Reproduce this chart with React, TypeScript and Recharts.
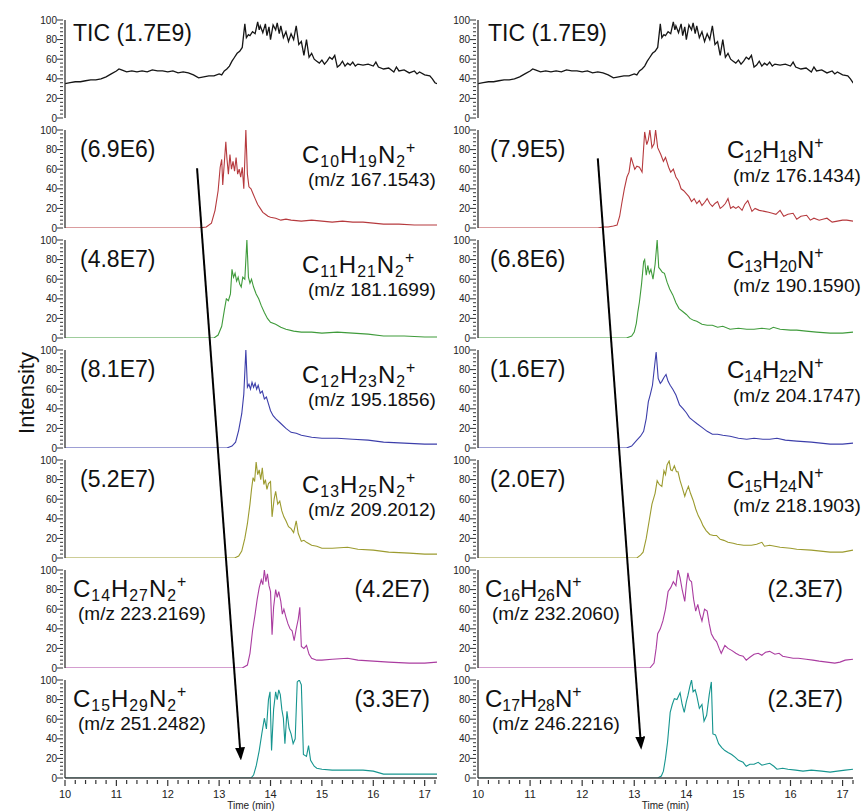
import React from 'react';
import { LineChart, Line, XAxis, YAxis } from 'recharts';

type Pt = [number, number];

// total ion chromatogram (same run, shown on top of both columns)
const TIC: Pt[] = [
  [10.0, 35], [10.1, 36], [10.2, 37], [10.3, 37], [10.4, 38], [10.5, 39], [10.6, 39], [10.7, 40], [10.8, 42], [10.9, 45],
  [11.0, 48], [11.05, 50], [11.1, 49], [11.2, 47], [11.3, 48], [11.4, 47], [11.5, 48], [11.6, 47], [11.7, 49], [11.8, 48],
  [11.9, 48], [12.0, 47], [12.1, 48], [12.2, 46], [12.3, 47], [12.4, 46], [12.5, 44], [12.6, 41], [12.7, 42], [12.8, 43],
  [12.9, 43], [13.0, 45], [13.05, 44], [13.1, 48], [13.15, 50], [13.2, 53], [13.25, 58], [13.3, 62], [13.35, 66], [13.4, 68],
  [13.45, 72], [13.5, 96], [13.53, 82], [13.57, 85], [13.6, 84], [13.65, 88], [13.7, 86], [13.75, 98], [13.78, 90], [13.8, 94],
  [13.85, 87], [13.9, 96], [13.93, 84], [13.97, 93], [14.0, 80], [14.05, 95], [14.1, 90], [14.13, 97], [14.17, 86], [14.2, 94],
  [14.25, 82], [14.3, 88], [14.35, 78], [14.4, 86], [14.45, 80], [14.5, 94], [14.55, 75], [14.6, 78], [14.65, 64], [14.7, 80],
  [14.75, 62], [14.8, 66], [14.85, 60], [14.9, 58], [14.95, 56], [15.0, 59], [15.05, 55], [15.1, 58], [15.15, 62], [15.2, 60],
  [15.25, 64], [15.3, 52], [15.35, 54], [15.4, 58], [15.45, 53], [15.5, 56], [15.55, 54], [15.6, 57], [15.65, 53], [15.7, 55],
  [15.8, 54], [15.9, 55], [16.0, 53], [16.05, 57], [16.1, 52], [16.2, 50], [16.3, 51], [16.4, 47], [16.45, 52], [16.5, 48],
  [16.6, 49], [16.7, 46], [16.8, 48], [16.85, 45], [16.9, 47], [17.0, 44], [17.1, 43], [17.15, 40], [17.2, 36], [17.24, 35],
];

// left column: CnH2n-1N2+ series
const L_C10: Pt[] = [
  [10, 0], [12.6, 0], [12.75, 1], [12.85, 5], [12.92, 18], [12.98, 38], [13.02, 62], [13.05, 70], [13.07, 44], [13.1, 66],
  [13.13, 88], [13.15, 72], [13.18, 55], [13.21, 75], [13.24, 60], [13.27, 68], [13.3, 58], [13.33, 72], [13.36, 55], [13.39, 60],
  [13.42, 52], [13.45, 62], [13.48, 40], [13.52, 100], [13.55, 55], [13.58, 42], [13.62, 40], [13.66, 35], [13.7, 30], [13.75, 24],
  [13.8, 20], [13.85, 16], [13.9, 14], [13.95, 12], [14.0, 11], [14.1, 10], [14.2, 8], [14.3, 9], [14.4, 8], [14.6, 7],
  [14.8, 8], [15.0, 7], [15.2, 6], [15.4, 7], [15.6, 6], [15.8, 6], [16.0, 5], [16.2, 4], [16.5, 4], [16.8, 3], [17.0, 3], [17.24, 3],
];
const L_C11: Pt[] = [
  [10, 0], [12.9, 0], [12.98, 3], [13.05, 12], [13.1, 28], [13.14, 40], [13.18, 38], [13.22, 45], [13.25, 70], [13.28, 62],
  [13.31, 66], [13.34, 58], [13.37, 62], [13.4, 55], [13.43, 52], [13.46, 62], [13.5, 60], [13.54, 100], [13.57, 62], [13.6, 56],
  [13.63, 60], [13.67, 52], [13.72, 45], [13.77, 40], [13.82, 33], [13.88, 26], [13.94, 20], [14.0, 16], [14.1, 14], [14.2, 11],
  [14.3, 9], [14.45, 7], [14.6, 6], [14.8, 6], [15.0, 5], [15.3, 6], [15.6, 5], [15.9, 4], [16.2, 2], [16.6, 2], [17.0, 1], [17.24, 1],
];
const L_C12: Pt[] = [
  [10, 0], [13.15, 0], [13.25, 2], [13.32, 6], [13.38, 18], [13.44, 35], [13.48, 55], [13.52, 100], [13.55, 62], [13.58, 65],
  [13.61, 60], [13.64, 67], [13.67, 62], [13.7, 66], [13.73, 60], [13.76, 64], [13.8, 56], [13.84, 58], [13.88, 50], [13.92, 52],
  [13.96, 45], [14.0, 38], [14.05, 33], [14.1, 30], [14.2, 25], [14.3, 20], [14.4, 16], [14.5, 15], [14.6, 13], [14.8, 11],
  [15.0, 10], [15.3, 10], [15.6, 9], [15.9, 8], [16.2, 6], [16.6, 5], [17.0, 4], [17.24, 4],
];
const L_C13: Pt[] = [
  [10, 0], [13.3, 0], [13.38, 2], [13.44, 7], [13.5, 20], [13.55, 35], [13.6, 55], [13.63, 70], [13.66, 82], [13.69, 78],
  [13.72, 98], [13.75, 85], [13.78, 90], [13.81, 80], [13.84, 92], [13.87, 75], [13.9, 80], [13.93, 70], [13.96, 76], [14.0, 78],
  [14.03, 42], [14.07, 60], [14.1, 68], [14.14, 55], [14.18, 58], [14.22, 48], [14.26, 42], [14.3, 38], [14.35, 32], [14.4, 30],
  [14.45, 26], [14.5, 38], [14.54, 25], [14.6, 17], [14.65, 18], [14.7, 16], [14.8, 13], [14.9, 12], [15.0, 10], [15.2, 10],
  [15.5, 11], [15.7, 9], [16.0, 8], [16.3, 6], [16.7, 5], [17.0, 4], [17.24, 4],
];
const L_C14: Pt[] = [
  [10, 0], [13.45, 0], [13.55, 3], [13.6, 15], [13.65, 38], [13.7, 55], [13.74, 70], [13.78, 82], [13.82, 90], [13.85, 85],
  [13.88, 100], [13.91, 88], [13.94, 96], [13.97, 84], [14.0, 78], [14.03, 34], [14.06, 62], [14.1, 80], [14.13, 72], [14.16, 78],
  [14.2, 68], [14.23, 55], [14.26, 60], [14.3, 52], [14.34, 45], [14.38, 40], [14.42, 38], [14.46, 28], [14.5, 40], [14.54, 50],
  [14.57, 62], [14.6, 22], [14.65, 20], [14.7, 23], [14.75, 14], [14.8, 10], [14.9, 8], [15.0, 8], [15.2, 9], [15.5, 10],
  [15.7, 8], [16.0, 7], [16.3, 6], [16.7, 5], [17.0, 5], [17.24, 6],
];
const L_C15: Pt[] = [
  [10, 0], [13.62, 0], [13.67, 3], [13.72, 12], [13.78, 28], [13.83, 45], [13.88, 61], [13.92, 50], [13.96, 80], [13.99, 88],
  [14.02, 28], [14.06, 70], [14.1, 88], [14.13, 80], [14.16, 90], [14.19, 85], [14.22, 70], [14.25, 61], [14.28, 35], [14.32, 68],
  [14.36, 51], [14.4, 45], [14.44, 35], [14.48, 40], [14.52, 98], [14.56, 100], [14.6, 95], [14.64, 24], [14.7, 22], [14.74, 33],
  [14.78, 18], [14.85, 12], [14.9, 10], [15.0, 9], [15.2, 8], [15.5, 8], [15.8, 8], [16.0, 7], [16.2, 4], [16.6, 4], [17.0, 4], [17.24, 4],
];

// right column: CnH2n-6N+ series
const R_C12: Pt[] = [
  [10, 0], [12.3, 0], [12.4, 1], [12.5, 1], [12.6, 2], [12.67, 3], [12.72, 12], [12.76, 25], [12.81, 40], [12.86, 52],
  [12.9, 57], [12.94, 72], [12.98, 65], [13.01, 60], [13.05, 63], [13.1, 62], [13.15, 57], [13.2, 98], [13.24, 85], [13.27, 90],
  [13.3, 100], [13.34, 82], [13.38, 86], [13.41, 100], [13.45, 82], [13.51, 75], [13.56, 68], [13.6, 72], [13.66, 62], [13.7, 57],
  [13.75, 60], [13.8, 52], [13.85, 48], [13.9, 40], [13.95, 38], [14.0, 35], [14.05, 32], [14.1, 27], [14.15, 30], [14.2, 25],
  [14.25, 28], [14.3, 23], [14.35, 26], [14.4, 30], [14.45, 25], [14.5, 22], [14.55, 25], [14.6, 27], [14.65, 20], [14.7, 22],
  [14.75, 25], [14.8, 30], [14.85, 20], [14.9, 22], [14.95, 20], [15.0, 22], [15.07, 18], [15.12, 24], [15.18, 28], [15.26, 17],
  [15.32, 20], [15.4, 18], [15.5, 17], [15.58, 16], [15.65, 15], [15.72, 14], [15.8, 18], [15.87, 12], [15.95, 14], [16.05, 15],
  [16.12, 9], [16.2, 12], [16.31, 13], [16.38, 8], [16.45, 10], [16.55, 8], [16.62, 9], [16.7, 10], [16.8, 6], [16.9, 7],
  [17.0, 8], [17.08, 8], [17.2, 7],
];
const R_C13: Pt[] = [
  [10, 0], [12.85, 0], [12.95, 2], [13.0, 6], [13.04, 15], [13.07, 27], [13.1, 37], [13.14, 55], [13.18, 78], [13.2, 80],
  [13.23, 64], [13.26, 74], [13.29, 66], [13.32, 70], [13.36, 60], [13.4, 75], [13.44, 100], [13.47, 72], [13.5, 70], [13.54, 67],
  [13.58, 66], [13.63, 57], [13.68, 50], [13.74, 44], [13.8, 36], [13.86, 30], [13.93, 27], [14.0, 24], [14.07, 20], [14.14, 18],
  [14.2, 17], [14.3, 14], [14.4, 13], [14.5, 13], [14.6, 11], [14.7, 12], [14.84, 9], [15.0, 10], [15.16, 9], [15.3, 9],
  [15.45, 10], [15.6, 9], [15.67, 11], [15.8, 9], [16.0, 8], [16.12, 8], [16.3, 7], [16.5, 6], [16.76, 5], [17.0, 5], [17.2, 6],
];
const R_C14: Pt[] = [
  [10, 0], [12.85, 0], [12.95, 2], [13.05, 8], [13.12, 12], [13.18, 17], [13.23, 30], [13.27, 47], [13.31, 55], [13.35, 64],
  [13.42, 98], [13.46, 71], [13.5, 66], [13.53, 68], [13.57, 72], [13.61, 75], [13.65, 68], [13.69, 64], [13.74, 60], [13.8, 54],
  [13.87, 44], [13.94, 40], [14.0, 36], [14.06, 31], [14.13, 28], [14.2, 25], [14.3, 21], [14.4, 17], [14.5, 14], [14.6, 14],
  [14.7, 13], [14.84, 12], [15.0, 10], [15.16, 9], [15.3, 10], [15.47, 9], [15.6, 9], [15.74, 10], [15.9, 8], [16.12, 7],
  [16.4, 6], [16.76, 4], [17.0, 4], [17.2, 5],
];
const R_C15: Pt[] = [
  [10, 0], [13.05, 0], [13.12, 3], [13.17, 6], [13.23, 20], [13.29, 39], [13.34, 55], [13.4, 66], [13.44, 79], [13.48, 75],
  [13.53, 73], [13.57, 89], [13.6, 85], [13.63, 95], [13.67, 99], [13.7, 90], [13.73, 89], [13.77, 94], [13.81, 88], [13.84, 88],
  [13.88, 79], [13.92, 72], [13.97, 63], [14.0, 68], [14.04, 73], [14.08, 66], [14.13, 59], [14.18, 50], [14.23, 43], [14.28, 38],
  [14.32, 33], [14.38, 28], [14.45, 24], [14.52, 23], [14.58, 23], [14.65, 19], [14.72, 18], [14.8, 16], [14.9, 15], [14.97, 14],
  [15.1, 13], [15.25, 13], [15.35, 14], [15.45, 16], [15.5, 12], [15.6, 13], [15.8, 11], [16.0, 10], [16.12, 9], [16.4, 8],
  [16.76, 6], [17.0, 6], [17.2, 8],
];
const R_C16: Pt[] = [
  [10, 0], [13.3, 0], [13.38, 5], [13.42, 20], [13.45, 35], [13.5, 40], [13.55, 48], [13.6, 60], [13.65, 78], [13.7, 82],
  [13.75, 88], [13.8, 84], [13.84, 100], [13.88, 92], [13.92, 80], [13.97, 68], [14.0, 85], [14.03, 97], [14.06, 90], [14.1, 88],
  [14.14, 70], [14.18, 58], [14.22, 65], [14.26, 55], [14.3, 48], [14.35, 60], [14.4, 58], [14.44, 45], [14.48, 35], [14.53, 30],
  [14.58, 27], [14.63, 20], [14.67, 15], [14.74, 23], [14.8, 20], [14.87, 18], [14.95, 15], [15.02, 13], [15.09, 12], [15.15, 8],
  [15.22, 11], [15.3, 14], [15.38, 15], [15.45, 13], [15.52, 16], [15.6, 17], [15.7, 14], [15.78, 15], [15.85, 12], [15.95, 11],
  [16.05, 10], [16.15, 10], [16.3, 9], [16.43, 8], [16.55, 7], [16.7, 6], [16.85, 5], [16.95, 6], [17.05, 8], [17.2, 9],
];
const R_C17: Pt[] = [
  [10, 0], [13.45, 0], [13.52, 2], [13.56, 7], [13.6, 20], [13.64, 37], [13.69, 67], [13.73, 75], [13.77, 81], [13.82, 80],
  [13.88, 87], [13.92, 75], [13.96, 67], [14.0, 78], [14.03, 84], [14.07, 94], [14.1, 100], [14.13, 88], [14.17, 90], [14.2, 84],
  [14.25, 71], [14.3, 75], [14.34, 58], [14.39, 64], [14.44, 85], [14.48, 98], [14.51, 45], [14.56, 44], [14.62, 35], [14.68, 31],
  [14.74, 28], [14.8, 26], [14.87, 24], [14.94, 21], [15.0, 18], [15.09, 16], [15.15, 12], [15.22, 14], [15.3, 14], [15.38, 16],
  [15.45, 13], [15.52, 14], [15.6, 15], [15.68, 12], [15.74, 9], [15.85, 10], [15.95, 9], [16.1, 8], [16.24, 7], [16.4, 8],
  [16.6, 7], [16.76, 6], [16.9, 7], [17.05, 8], [17.2, 9],
];

const LEFT_TRACES = [TIC, L_C10, L_C11, L_C12, L_C13, L_C14, L_C15];
const RIGHT_TRACES = [TIC, R_C12, R_C13, R_C14, R_C15, R_C16, R_C17];

const LEFT_SCALES = ['1.7E9', '6.9E6', '4.8E7', '8.1E7', '5.2E7', '4.2E7', '3.3E7'];
const RIGHT_SCALES = ['1.7E9', '7.9E5', '6.8E6', '1.6E7', '2.0E7', '2.3E7', '2.3E7'];
const LEFT_FORMULAS = ['', 'C10H19N2+', 'C11H21N2+', 'C12H23N2+', 'C13H25N2+', 'C14H27N2+', 'C15H29N2+'];
const RIGHT_FORMULAS = ['', 'C12H18N+', 'C13H20N+', 'C14H22N+', 'C15H24N+', 'C16H26N+', 'C17H28N+'];
const LEFT_MZ = ['', '167.1543', '181.1699', '195.1856', '209.2012', '223.2169', '251.2482'];
const RIGHT_MZ = ['', '176.1434', '190.1590', '204.1747', '218.1903', '232.2060', '246.2216'];

// arrows: [time, panel, value] start -> end
const LEFT_ARROW = { from: [12.57, 1, 61], to: [13.42, 6, 21] };
const RIGHT_ARROW = { from: [12.3, 1, 71], to: [13.13, 6, 32] };

const COLORS = ['#161616', '#b63a3e', '#3f9b3b', '#3c3eaa', '#9c9b2f', '#aa3ca0', '#16958f'];
const FONT = '"Liberation Sans", Arial, Helvetica, sans-serif';

const PANEL_STEP = 110;
const PLOT_H = 98;
const TOP0 = 10;
const M_TOP = 10;

const COLS = {
  left: {
    left: 0, width: 440, axisW: 65, xMax: 17.24,
    tic: 8, num: 15, fx: 237, mx: 243, fxL: 8, mxL: 13, numR: 365,
    fy: 24, my: 49, ls: 1,
  },
  right: {
    left: 440, width: 416, axisW: 38, xMax: 17.2,
    tic: 10, num: 12, fx: 249, mx: 255, fxL: 7, mxL: 14, numR: 365,
    fy: 19, my: 45, ls: 0,
  },
};

const Y_TICKS = Array.from({ length: 26 }, (_, i) => i * 4);
const X_TICKS = Array.from({ length: 37 }, (_, i) => Math.round((10 + i * 0.2) * 10) / 10);

const YTick = (props: any) => {
  const { x, y, payload } = props;
  const v = payload.value;
  const major = v % 20 === 0;
  return (
    <g>
      <line x1={x - (major ? 6 : 3)} x2={x} y1={y} y2={y} stroke="#333" strokeWidth={1} />
      {major && (
        <text x={x - 6} y={y + 3.5} textAnchor="end" fontSize={10} fill="#222" fontFamily={FONT}>
          {v}
        </text>
      )}
    </g>
  );
};

const XTick = (props: any) => {
  const { x, y, payload } = props;
  const v = payload.value;
  const major = Math.abs(v - Math.round(v)) < 1e-6;
  return (
    <g>
      <line x1={x} x2={x} y1={y} y2={y + (major ? 6 : 4)} stroke="#333" strokeWidth={1.2} />
      {major && (
        <text x={x} y={y + 18} textAnchor="middle" fontSize={11} fill="#222" fontFamily={FONT}>
          {Math.round(v)}
        </text>
      )}
    </g>
  );
};

function Panel({ col, index, data, color }: any) {
  const last = index === 6;
  const rows = data.map(([t, v]: Pt) => ({ t, v }));
  const height = M_TOP + PLOT_H + (last ? 34 : 2);
  return (
    <div style={{ position: 'absolute', left: col.left, top: TOP0 + index * PANEL_STEP }}>
      <LineChart
        width={col.width}
        height={height}
        data={rows}
        margin={{ top: M_TOP, right: 3, bottom: last ? 0 : 2, left: 0 }}
      >
        {last ? (
          <XAxis
            type="number"
            dataKey="t"
            domain={[10, col.xMax]}
            allowDataOverflow
            ticks={X_TICKS}
            interval={0}
            tickSize={0}
            tickLine={false}
            tick={<XTick />}
            height={34}
            axisLine={{ stroke: '#444', strokeWidth: 1.5 }}
            label={{ value: 'Time (min)', position: 'insideBottom', offset: 3, fontSize: 10, fill: '#222', fontFamily: FONT }}
          />
        ) : (
          <XAxis
            type="number"
            dataKey="t"
            domain={[10, col.xMax]}
            allowDataOverflow
            tick={false}
            tickLine={false}
            height={0}
            axisLine={{ stroke: '#555', strokeWidth: 1.5 }}
          />
        )}
        <YAxis
          type="number"
          domain={[0, 100]}
          allowDataOverflow
          ticks={Y_TICKS}
          interval={0}
          width={col.axisW}
          tickSize={0}
          tickLine={false}
          tick={<YTick />}
          axisLine={{ stroke: '#333', strokeWidth: 1.3 }}
        />
        <Line
          type="linear"
          dataKey="v"
          stroke={color}
          strokeWidth={index === 0 ? 1.3 : 1.1}
          dot={false}
          isAnimationActive={false}
        />
      </LineChart>
    </div>
  );
}

function Formula({ x, y, f, size, ls }: any) {
  const parts: string[] = f.match(/[A-Z][a-z]?|\d+|\+/g) || [];
  const sub = size * 0.66;
  let shift = 0;
  return (
    <text x={x} y={y} fontSize={size} fill="#111" fontFamily={FONT} letterSpacing={ls}>
      {parts.map((p, i) => {
        let target = 0;
        let fs = size;
        if (/\d/.test(p)) { target = size * 0.2; fs = sub; }
        else if (p === '+') { target = -size * 0.42; fs = sub; }
        const dy = target - shift;
        shift = target;
        return (
          <tspan key={i} dy={dy} fontSize={fs}>
            {p}
          </tspan>
        );
      })}
    </text>
  );
}

const plotTop = (i: number) => TOP0 + i * PANEL_STEP + M_TOP;
const capBase = (i: number, off: number, size: number) => plotTop(i) + off + size * 0.358;

function ColumnLabels({ col, scales, formulas, mz }: any) {
  const x0 = col.left + col.axisW;
  return (
    <g fontFamily={FONT} fill="#111">
      <text x={x0 + col.tic} y={capBase(0, 13, 23)} fontSize={23}>TIC ({scales[0]})</text>
      {formulas.map((f: string, i: number) => {
        if (!f) return null;
        if (i < 5) {
          return (
            <g key={i}>
              <text x={x0 + col.num} y={capBase(i, 19, 23)} fontSize={23}>({scales[i]})</text>
              <Formula x={x0 + col.fx} y={capBase(i, col.fy, 24)} f={f} size={24} ls={col.ls} />
              <text x={x0 + col.mx} y={capBase(i, col.my, 19)} fontSize={19}>(m/z {mz[i]})</text>
            </g>
          );
        }
        return (
          <g key={i}>
            <Formula x={x0 + col.fxL} y={capBase(i, 18, 24)} f={f} size={24} ls={col.ls} />
            <text x={x0 + col.mxL} y={capBase(i, 43, 19)} fontSize={19}>(m/z {mz[i]})</text>
            <text x={x0 + col.numR} y={capBase(i, 19, 23)} fontSize={23} textAnchor="end">({scales[i]})</text>
          </g>
        );
      })}
    </g>
  );
}

function arrowXY(col: any, p: number[]) {
  const x0 = col.left + col.axisW;
  const w = col.width - col.axisW - 3;
  const x = x0 + ((p[0] - 10) / (col.xMax - 10)) * w;
  const y = plotTop(p[1]) + (1 - p[2] / 100) * PLOT_H;
  return [x, y];
}

function Arrow({ col, a }: any) {
  const [x1, y1] = arrowXY(col, a.from);
  const [x2, y2] = arrowXY(col, a.to);
  return <line x1={x1} y1={y1} x2={x2} y2={y2} stroke="#000" strokeWidth={2} markerEnd="url(#arrowHead)" />;
}

export default function App() {
  return (
    <div style={{ position: 'absolute', left: 0, top: 0, width: 868, height: 812, background: '#fff', overflow: 'hidden' }}>
      <style>{'.recharts-surface{overflow:visible}'}</style>
      {LEFT_TRACES.map((d, i) => (
        <Panel key={'l' + i} col={COLS.left} index={i} data={d} color={COLORS[i]} />
      ))}
      {RIGHT_TRACES.map((d, i) => (
        <Panel key={'r' + i} col={COLS.right} index={i} data={d} color={COLORS[i]} />
      ))}
      <svg width={868} height={812} style={{ position: 'absolute', left: 0, top: 0, pointerEvents: 'none' }}>
        <defs>
          <marker id="arrowHead" markerWidth="13" markerHeight="10" refX="10" refY="5" orient="auto" markerUnits="userSpaceOnUse">
            <path d="M0,0 L13,5 L0,10 z" fill="#000" />
          </marker>
        </defs>
        <text
          x={26}
          y={393}
          fontSize={22}
          fill="#111"
          fontFamily={FONT}
          textAnchor="middle"
          dominantBaseline="central"
          transform="rotate(-90 26 393)"
        >
          Intensity
        </text>
        <ColumnLabels col={COLS.left} scales={LEFT_SCALES} formulas={LEFT_FORMULAS} mz={LEFT_MZ} />
        <ColumnLabels col={COLS.right} scales={RIGHT_SCALES} formulas={RIGHT_FORMULAS} mz={RIGHT_MZ} />
        <Arrow col={COLS.left} a={LEFT_ARROW} />
        <Arrow col={COLS.right} a={RIGHT_ARROW} />
      </svg>
    </div>
  );
}
